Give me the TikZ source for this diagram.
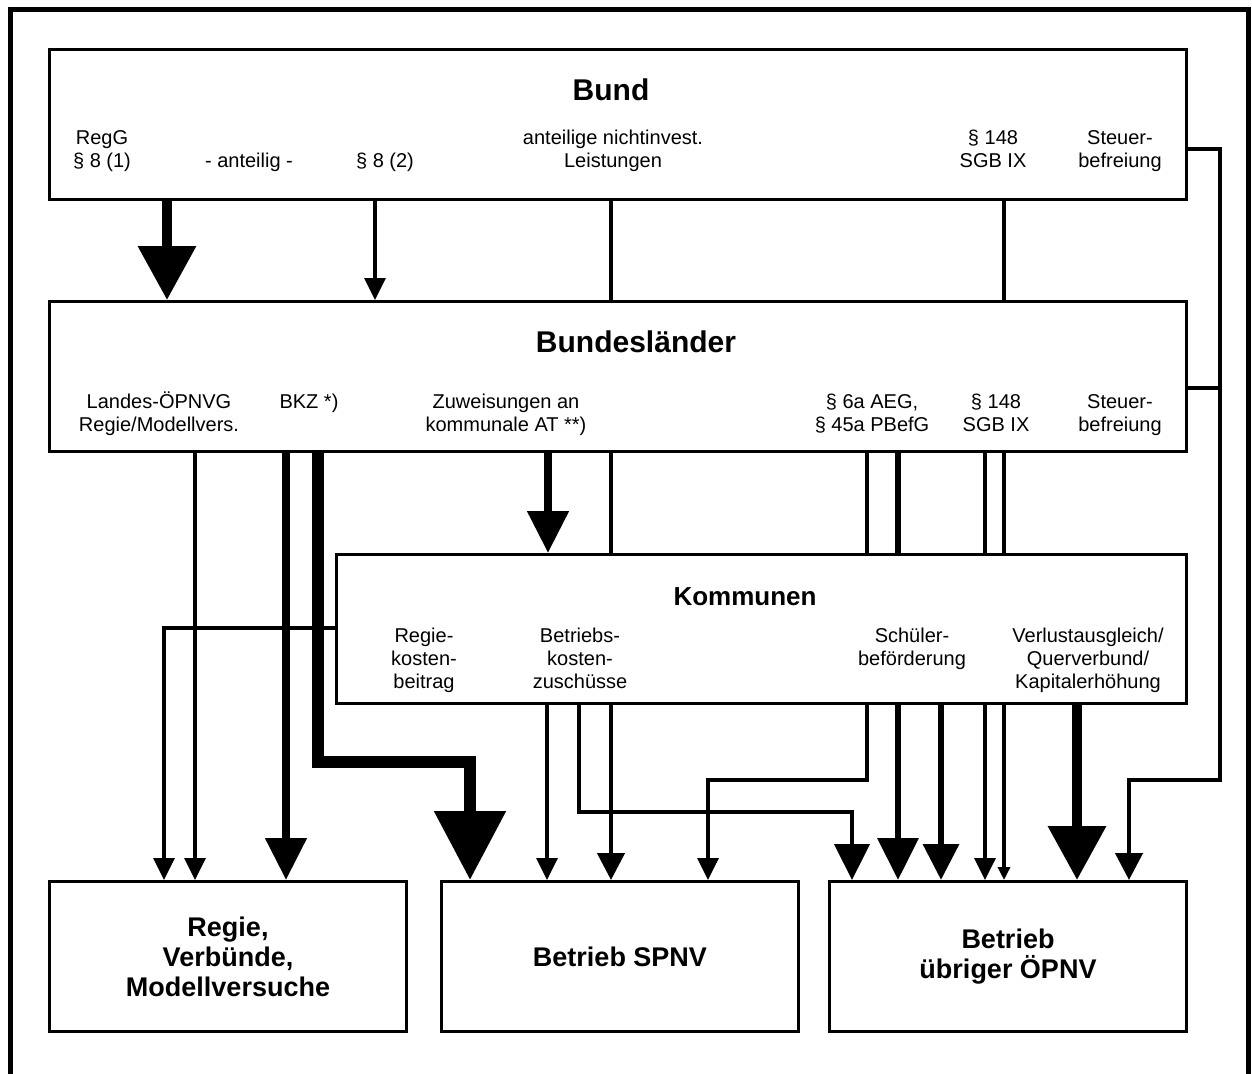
\documentclass[tikz,border=0pt]{standalone}
\usepackage{fontspec}
\setmainfont{Liberation Sans}
\usetikzlibrary{arrows.meta}

\newcommand{\lblsize}{\fontsize{20}{23}\selectfont}
\newcommand{\ttlsize}{\bfseries\fontsize{30}{34}\selectfont}

\tikzset{
  box/.style={draw, line width=3pt, inner sep=0pt, anchor=north west},
  lowbox/.style={box, minimum width=357pt, minimum height=150pt,
    align=center, font=\bfseries\fontsize{27}{30}\selectfont},
  lbl/.style={font=\lblsize, align=center, inner sep=0pt, anchor=base},
  ttl/.style={font=\ttlsize, inner sep=0pt, anchor=base},
  ln/.style={line width=3.5pt},
  lnM/.style={line width=4.5pt},
  lnT/.style={line width=6.5pt},
  lnTT/.style={line width=8pt},
  lnX/.style={line width=10pt},
  lnXX/.style={line width=12pt},
  tipXS/.style={-{Triangle[width=12pt,length=13pt]}},
  tipS/.style={-{Triangle[width=21pt,length=22pt]}},
  tipM/.style={-{Triangle[width=27pt,length=27pt]}},
  tipL/.style={-{Triangle[width=35pt,length=36pt]}},
  tipXL/.style={-{Triangle[width=40pt,length=42pt]}},
  tipH/.style={-{Triangle[width=56pt,length=54pt]}},
  tipHH/.style={-{Triangle[width=69pt,length=69pt]}},
}

\begin{document}
\begin{tikzpicture}[x=1pt, y=-1pt]
  \useasboundingbox (0,0) rectangle (1252,1073);
  % frame
  \draw[line width=5pt] (10,1090) -- (10,10) -- (1248,10) -- (1248,1090);

  % boxes
  \node[box, minimum width=1137pt, minimum height=150pt] (bund) at (48,48) {};
  \node[box, minimum width=1137pt, minimum height=150pt] (laender) at (48,300) {};
  \node[box, minimum width=850pt, minimum height=149pt] (komm) at (335,553) {};
  \node[lowbox] (regie) at (48,880) {Regie,\\Verbünde,\\Modellversuche};
  \node[lowbox] (spnv) at (440,880) {Betrieb SPNV};
  \node[lowbox] (oepnv) at (828,880) {Betrieb\\übriger ÖPNV};

  % titles
  \node[ttl] (bundT) at (611,100) {Bund};
  \node[ttl] (laenderT) at (636,352) {Bundesländer};
  \node[ttl, font=\bfseries\fontsize{26}{30}\selectfont] (kommT) at (745,605) {Kommunen};

  % Bund (base = last line)
  \node[lbl] (regg) at (102,167) {RegG\\§ 8 (1)};
  \node[lbl] (anteilig) at (249,167) {- anteilig -};
  \node[lbl] (p82) at (385,167) {§ 8 (2)};
  \node[lbl] (nichtinv) at (613,167) {anteilige nichtinvest.\\Leistungen};
  \node[lbl] (sgbB) at (993,167) {§ 148\\SGB IX};
  \node[lbl] (steuerB) at (1120,167) {Steuer-\\befreiung};

  % Bundeslaender
  \node[lbl] (landes) at (159,431) {Landes-ÖPNVG\\Regie/Modellvers.};
  \node[lbl] (bkz) at (309,408) {BKZ *)};
  \node[lbl] (zuw) at (506,431) {Zuweisungen an\\kommunale AT **)};
  \node[lbl] (aeg) at (872,431) {§ 6a AEG,\\§ 45a PBefG};
  \node[lbl] (sgbL) at (996,431) {§ 148\\SGB IX};
  \node[lbl] (steuerL) at (1120,431) {Steuer-\\befreiung};

  % Kommunen
  \node[lbl] (regiek) at (424,688) {Regie-\\kosten-\\beitrag};
  \node[lbl] (betriebsk) at (580,688) {Betriebs-\\kosten-\\zuschüsse};
  \node[lbl] (schueler) at (912,665) {Schüler-\\beförderung};
  \node[lbl] (verlust) at (1088,688) {Verlustausgleich/\\Querverbund/\\Kapitalerhöhung};

  % Bund -> Bundeslaender
  \draw[lnX, tipH] (bund.south -| 167,0) -- (laender.north -| 167,0);
  \draw[ln, tipS] (bund.south -| 375,0) -- (laender.north -| 375,0);
  \draw[ln] (bund.south -| 611,0) -- (laender.north -| 611,0);
  \draw[ln] (bund.south -| 1004,0) -- (laender.north -| 1004,0);
  \coordinate (steuerJ) at (1220,388);
  \draw[ln] (bund.east |- 0,149) -| (steuerJ);

  % Bundeslaender -> Kommunen
  \draw[lnTT, tipXL] (laender.south -| 548,0) -- (komm.north -| 548,0);
  \draw[ln] (laender.south -| 611,0) -- (komm.north -| 611,0);
  \draw[ln] (laender.south -| 867,0) -- (komm.north -| 867,0);
  \draw[lnT] (laender.south -| 898,0) -- (komm.north -| 898,0);
  \draw[ln] (laender.south -| 985,0) -- (komm.north -| 985,0);
  \draw[ln] (laender.south -| 1004,0) -- (komm.north -| 1004,0);

  % Bundeslaender -> Empfaenger
  \draw[ln, tipS] (laender.south -| 195,0) -- (regie.north -| 195,0);
  \draw[lnTT, tipXL] (laender.south -| 286,0) -- (regie.north -| 286,0);
  \draw[lnXX, tipHH] (laender.south -| 318,0) |- (470,762) -- (spnv.north -| 470,0);
  \draw[lnM, tipM] (laender.east |- steuerJ) -- (steuerJ) |- (1129,780) -- (oepnv.north -| 1129,0);

  % Kommunen -> Empfaenger
  \draw[ln, tipS] (komm.west |- 0,628) -| (regie.north -| 164,0);
  \draw[ln, tipS] (komm.south -| 547,0) -- (spnv.north -| 547,0);
  \draw[lnM, tipL] (komm.south -| 579,0) |- (852,812) -- (oepnv.north -| 852,0);
  \draw[lnM, tipM] (komm.south -| 611,0) -- (spnv.north -| 611,0);
  \draw[ln, tipS] (komm.south -| 867,0) |- (708,780) -- (spnv.north -| 708,0);
  \draw[lnT, tipXL] (komm.south -| 898,0) -- (oepnv.north -| 898,0);
  \draw[lnT, tipL] (komm.south -| 941,0) -- (oepnv.north -| 941,0);
  \draw[ln, tipS] (komm.south -| 985,0) -- (oepnv.north -| 985,0);
  \draw[ln, tipXS] (komm.south -| 1004,0) -- (oepnv.north -| 1004,0);
  \draw[lnX, tipH] (komm.south -| 1077,0) -- (oepnv.north -| 1077,0);
\end{tikzpicture}
\end{document}
